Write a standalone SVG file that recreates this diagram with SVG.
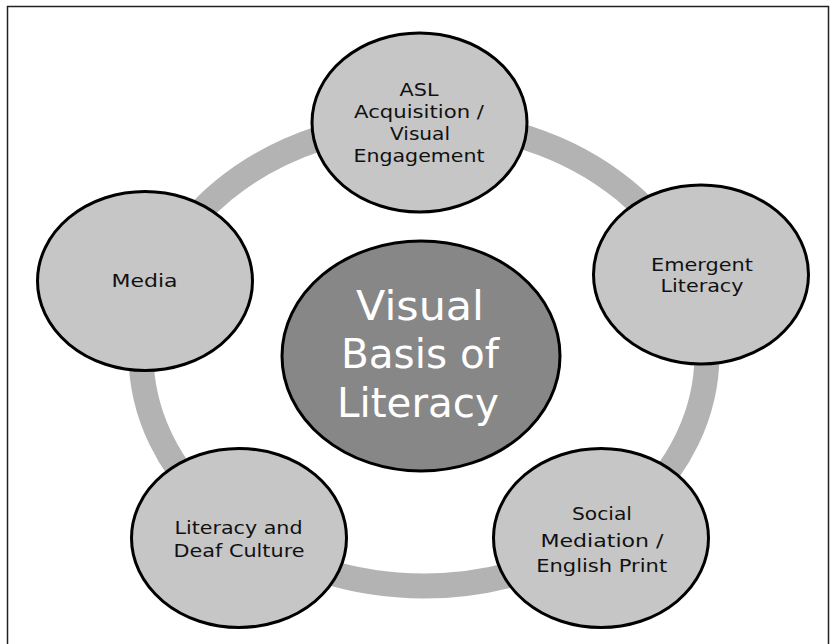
<svg xmlns="http://www.w3.org/2000/svg" width="834" height="644" viewBox="0 0 834 644">
<style>
.node{fill:#c6c6c6;stroke:#000;stroke-width:3}
.hub{fill:#878787;stroke:#000;stroke-width:3}
.t{font-family:"DejaVu Sans","Liberation Sans",sans-serif;font-size:17.5px;fill:#111;text-anchor:middle}
.big{font-family:"DejaVu Sans","Liberation Sans",sans-serif;font-size:41px;fill:#fff;text-anchor:middle}
</style>
<rect x="0" y="0" width="834" height="644" fill="#fff"/>
<rect x="7.5" y="6.5" width="821" height="700" fill="none" stroke="#222" stroke-width="1.5"/>
<g id="connectors">
<ellipse cx="424" cy="354" rx="283" ry="232" fill="none" stroke="#b3b3b3" stroke-width="25"/>
</g>
<g id="center">
<ellipse class="hub" cx="421" cy="356" rx="139" ry="115"/>
<text class="big" x="420" y="320" textLength="128" lengthAdjust="spacingAndGlyphs">Visual</text>
<text class="big" x="420" y="368" textLength="158" lengthAdjust="spacingAndGlyphs">Basis of</text>
<text class="big" x="418" y="417" textLength="162" lengthAdjust="spacingAndGlyphs">Literacy</text>
</g>
<g id="asl">
<ellipse class="node" cx="419.5" cy="122.5" rx="107.5" ry="89.5"/>
<text class="t" x="419" y="95.5" textLength="39" lengthAdjust="spacingAndGlyphs">ASL</text>
<text class="t" x="419" y="117.8" textLength="130" lengthAdjust="spacingAndGlyphs">Acquisition /</text>
<text class="t" x="420" y="140" textLength="60" lengthAdjust="spacingAndGlyphs">Visual</text>
<text class="t" x="419" y="162.4" textLength="131" lengthAdjust="spacingAndGlyphs">Engagement</text>
</g>
<g id="emergent">
<ellipse class="node" cx="701" cy="274.5" rx="107.5" ry="89.5"/>
<text class="t" x="702" y="270.7" textLength="102" lengthAdjust="spacingAndGlyphs">Emergent</text>
<text class="t" x="702" y="291.7" textLength="83" lengthAdjust="spacingAndGlyphs">Literacy</text>
</g>
<g id="social">
<ellipse class="node" cx="601" cy="538" rx="107.5" ry="89.5"/>
<text class="t" x="602" y="520" textLength="60" lengthAdjust="spacingAndGlyphs">Social</text>
<text class="t" x="602" y="547" textLength="123" lengthAdjust="spacingAndGlyphs">Mediation /</text>
<text class="t" x="601.7" y="572" textLength="131" lengthAdjust="spacingAndGlyphs">English Print</text>
</g>
<g id="deaf-culture">
<ellipse class="node" cx="239" cy="538" rx="107.5" ry="89.5"/>
<text class="t" x="238.5" y="534" textLength="128" lengthAdjust="spacingAndGlyphs">Literacy and</text>
<text class="t" x="239" y="556.7" textLength="131" lengthAdjust="spacingAndGlyphs">Deaf Culture</text>
</g>
<g id="media">
<ellipse class="node" cx="145" cy="281" rx="107.5" ry="89.5"/>
<text class="t" x="144.5" y="287" textLength="66" lengthAdjust="spacingAndGlyphs">Media</text>
</g>
</svg>
